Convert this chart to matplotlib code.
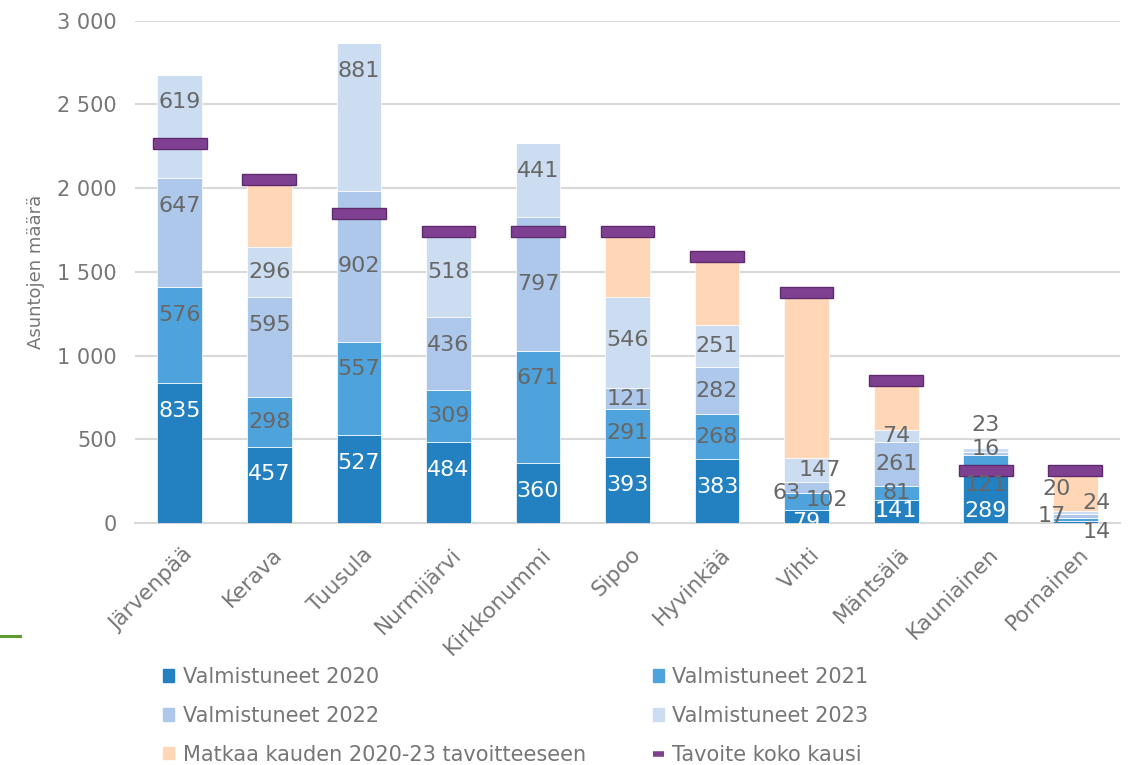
import numpy as np
import matplotlib.pyplot as plt
from matplotlib.lines import Line2D
from matplotlib.patches import Patch
from matplotlib.transforms import ScaledTranslation

# Data
kunnat = ['Järvenpää', 'Kerava', 'Tuusula', 'Nurmijärvi', 'Kirkkonummi', 'Sipoo',
          'Hyvinkää', 'Vihti', 'Mäntsälä', 'Kauniainen', 'Pornainen']
v2020 = [835, 457, 527, 484, 360, 393, 383, 79, 141, 289, 14]
v2021 = [576, 298, 557, 309, 671, 291, 268, 102, 81, 121, 17]
v2022 = [647, 595, 902, 436, 797, 121, 282, 63, 261, 16, 24]
v2023 = [619, 296, 881, 518, 441, 546, 251, 147, 74, 23, 20]
tavoite = [2267, 2053, 1847, 1742, 1742, 1742, 1590, 1380, 852, 317, 317]

y_ticks = [0, 500, 1000, 1500, 2000, 2500, 3000]

sarjat = ['Valmistuneet 2020', 'Valmistuneet 2021', 'Valmistuneet 2022', 'Valmistuneet 2023']
varit = ['#2481C1', '#4EA3DC', '#ADC8EA', '#CCDDF1']
orange = '#FFD6B6'
purple = '#804091'
label_grey = '#676767'
axis_grey = '#767676'

# labels that were dragged to the middle of their segment (away from the target marker)
keskelle = {('Tuusula', 2), ('Kirkkonummi', 2), ('Nurmijärvi', 3), ('Sipoo', 3)}
# manual label nudges (pixels: right, down) where Excel labels were moved
siirrot = {
    ('Vihti', 0): (0, 5), ('Vihti', 1): (20, -1), ('Vihti', 2): (-20, 5), ('Vihti', 3): (13, 0),
    ('Kauniainen', 0): (0, 12), ('Kauniainen', 1): (0, 20), ('Kauniainen', 2): (0, -4),
    ('Kauniainen', 3): (0, -25),
    ('Pornainen', 0): (21, 10), ('Pornainen', 1): (-24, -3), ('Pornainen', 2): (21, -13),
    ('Pornainen', 3): (-19, -23),
    ('Sipoo', 3): (0, -3), ('Nurmijärvi', 3): (0, -2),
}

x = np.arange(len(kunnat))
fig = plt.figure(figsize=(11.33, 7.65), dpi=100)
ax = fig.add_axes([0.1192, 0.316, 0.8693, 0.657])

ax.set_ylim(0, 3000)
ax.set_xlim(-0.5, len(kunnat) - 0.5)
for s in ax.spines.values():
    s.set_visible(False)
ax.yaxis.grid(True, color='#D9D9D9', lw=1.5)
ax.set_axisbelow(True)
ax.axhline(0, color='#D9D9D9', lw=1.5, zorder=0.5, clip_on=False)

off = 165  # inside-end offset in data units
bottom = np.zeros(len(kunnat))
for s, vals in enumerate([v2020, v2021, v2022, v2023]):
    vals = np.array(vals)
    ax.bar(x, vals, 0.5, bottom=bottom, color=varit[s], edgecolor='white', lw=0.5, zorder=2)
    for i, v in enumerate(vals):
        top = bottom[i] + v
        if (kunnat[i], s) in keskelle:
            yy = bottom[i] + v / 2
        else:
            yy = max(top - off, bottom[i] + v / 2)
        dx, dy = siirrot.get((kunnat[i], s), (0, 0))
        col = 'white' if s == 0 else label_grey
        if kunnat[i] == 'Pornainen':
            col = label_grey
        ax.annotate(str(v), (x[i], yy), xytext=(dx * 0.72, -dy * 0.72), textcoords='offset points',
                    ha='center', va='center', fontsize=16, color=col, zorder=5)
    bottom += vals

matkaa = np.maximum(0, np.array(tavoite) - bottom)
ax.bar(x, matkaa, 0.5, bottom=bottom, color=orange, edgecolor='white', lw=0.5, zorder=2)

# target markers
ax.bar(x, 66, 0.6, bottom=np.array(tavoite) - 33, color=purple, edgecolor='#5E2A6E', lw=1, zorder=4)

ax.set_yticks(y_ticks, [f'{t:,}'.replace(',', ' ') for t in y_ticks])
ax.tick_params(axis='y', length=0, pad=13, labelsize=15, labelcolor=axis_grey)
ax.set_xticks(x, kunnat, rotation=45, ha='right', rotation_mode='anchor')
ax.tick_params(axis='x', length=0, pad=15, labelsize=15.5, labelcolor=axis_grey)
for lab in ax.get_xticklabels():
    lab.set_transform(lab.get_transform() + ScaledTranslation(3 / 100, 0, fig.dpi_scale_trans))

ax.set_ylabel('Asuntojen määrä', fontsize=13, color=axis_grey)
ax.yaxis.set_label_coords(-0.0914, 0.5)

handles = [Patch(color=varit[0]), Patch(color=varit[2]), Patch(color=orange),
           Patch(color=varit[1]), Patch(color=varit[3]),
           Line2D([], [], color=purple, lw=4, solid_capstyle='butt')]
labels = [sarjat[0], sarjat[2], 'Matkaa kauden 2020-23 tavoitteeseen',
          sarjat[1], sarjat[3], 'Tavoite koko kausi']
leg = fig.legend(handles, labels, ncol=2, loc='upper left', bbox_to_anchor=(0.1439, 0.128),
                 frameon=False, fontsize=15, handlelength=0.55, handleheight=0.55,
                 handletextpad=0.4, columnspacing=3.2, labelspacing=0.9,
                 borderaxespad=0, borderpad=0)
for t in leg.get_texts():
    t.set_color(axis_grey)

# small green stroke at the left edge
fig.add_artist(Line2D([0, 20 / 1133], [1 - 636 / 765] * 2, color='#5B9B30', lw=2.2,
                      transform=fig.transFigure))

fig.savefig('out.png', dpi=100)
